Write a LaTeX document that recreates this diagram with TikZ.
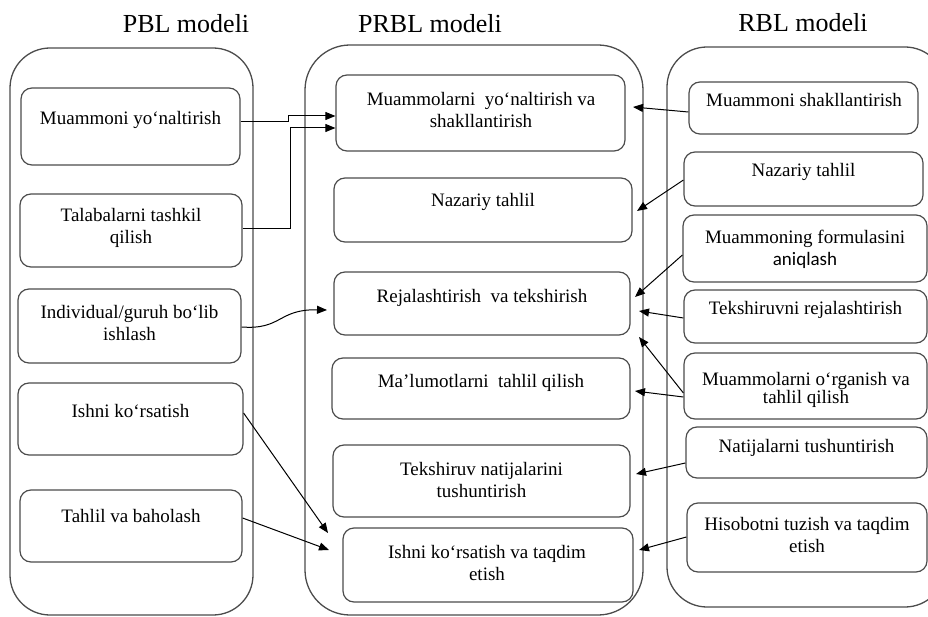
\documentclass[tikz,border=0pt]{standalone}
\usepackage{fontspec}
\setmainfont{Liberation Serif}
\newfontfamily\calib{Carlito}
\usetikzlibrary{fit,arrows.meta}
\begin{document}
\begin{tikzpicture}[x=1pt,y=-1pt,
  cont/.style={draw=black!70, line width=1.3pt, rounded corners=40pt, inner sep=0pt, fit={#1}},
  box/.style={draw=black!70, line width=1.2pt, rounded corners=11pt, inner sep=0pt, fit={#1}},
  txt/.style={font=\fontsize{19}{22}\selectfont, align=center, anchor=base, inner sep=0pt},
  ttl/.style={font=\fontsize{26}{30}\selectfont, anchor=base, inner sep=0pt},
  arr/.style={-{Triangle[length=10pt,width=8pt]}, line width=1pt, draw=black}]
\useasboundingbox (0,0) rectangle (928,617);
% titles
\node[ttl] (tL) at (186,33) {PBL modeli};
\node[ttl] (tM) at (430,33) {PRBL modeli};
\node[ttl] (tR) at (803,32) {RBL modeli};
% containers
\node[cont={(10,48) (253,615)}] (L) {};
\node[cont={(305,45) (643,615)}, rounded corners=45pt] (M) {};
\node[cont={(667,47) (945,607)}] (R) {};
% PBL boxes
\node[box={(21,88) (240,165)}] (p1) {};
\node[box={(20,194) (242,267)}] (p2) {};
\node[box={(18,289) (241,363)}] (p3) {};
\node[box={(18,383) (243,455)}] (p4) {};
\node[box={(20,490) (242,562)}] (p5) {};
\node[txt] (p1t) at (130.5,125) {Muammoni yo‘naltirish};
\node[txt] (p2t) at (131,244) {Talabalarni tashkil\\qilish};
\node[txt] (p3t) at (129.5,340) {Individual/guruh bo‘lib\\ishlash};
\node[txt] (p4t) at (130.5,417) {Ishni ko‘rsatish};
\node[txt] (p5t) at (131,522) {Tahlil va baholash};
% PRBL boxes
\node[box={(336,75) (625,151)}] (m1) {};
\node[box={(334,178) (632,242)}] (m2) {};
\node[box={(334,272) (630,335)}] (m3) {};
\node[box={(332,358) (630,419)}] (m4) {};
\node[box={(333,445) (630,517)}] (m5) {};
\node[box={(343,528) (633,602)}] (m6) {};
\node[txt] (m1t) at (481,128) {Muammolarni\ \ yo‘naltirish va\\shakllantirish};
\node[txt] (m2t) at (483,207) {Nazariy tahlil};
\node[txt] (m3t) at (482,302) {Rejalashtirish\ \ va tekshirish};
\node[txt] (m4t) at (481,387) {Ma’lumotlarni\ \ tahlil qilish};
\node[txt] (m5t) at (481.5,497) {Tekshiruv natijalarini\\tushuntirish};
\node[txt] (m6t) at (487,580) {Ishni ko‘rsatish va taqdim\\etish};
% RBL boxes
\node[box={(689,82) (918,134)}] (r1) {};
\node[box={(684,152) (923,206)}] (r2) {};
\node[box={(683,215) (927,282)}] (r3) {};
\node[box={(684,290) (927,343)}] (r4) {};
\node[box={(684,353) (927,419)}] (r5) {};
\node[box={(686,427) (927,478)}] (r6) {};
\node[box={(687,503) (927,572)}] (r7) {};
\node[txt] (r1t) at (804,107) {Muammoni shakllantirish};
\node[txt] (r2t) at (803.5,177) {Nazariy tahlil};
\node[txt] (r3t) at (805,266) {Muammoning formulasini\\{\calib aniqlash}};
\node[txt] (r4t) at (805.5,315) {Tekshiruvni rejalashtirish};
\node[txt] (r5t) at (806,403) {Muammolarni o‘rganish va\\[-4pt]tahlil qilish};
\node[txt] (r6t) at (806.5,452) {Natijalarni tushuntirish};
\node[txt] (r7t) at (807,552) {Hisobotni tuzish va taqdim\\etish};
% arrow tips
\coordinate (a3) at (327,310);
\coordinate (a4) at (328,533);
\coordinate (a5) at (329,550);
\coordinate (b1) at (633,107);
\coordinate (b2) at (637,211);
\coordinate (b3) at (635,297);
\coordinate (b4) at (639,311);
\coordinate (b5) at (639,337);
\coordinate (b6) at (635,391);
\coordinate (b7) at (636,474);
\coordinate (b8) at (639,550);
% left connectors
\draw[arr] (p1.east |- 0,122) -| (288,116) -- (m1.west |- 0,116);
\draw[arr] (p2.east |- 0,229) -| (290,128) -- (m1.west |- 0,128);
\draw[arr] (p3.east |- 0,327) .. controls (282,330) and (278,309) .. (a3);
\draw[arr] (p4.east |- 0,413) -- (a4);
\draw[arr] (p5.east |- 0,518) -- (a5);
% right connectors
\draw[arr] (r1.west |- 0,112) -- (b1);
\draw[arr] (r2.west |- 0,180) -- (b2);
\draw[arr] (r3.west |- 0,255) -- (b3);
\draw[arr] (r4.west |- 0,318) -- (b4);
\draw[arr] (r5.west |- 0,393) -- (b5);
\draw[arr] (r5.west |- 0,397) -- (b6);
\draw[arr] (r6.west |- 0,463) -- (b7);
\draw[arr] (r7.west |- 0,537) -- (b8);
\end{tikzpicture}
\end{document}
